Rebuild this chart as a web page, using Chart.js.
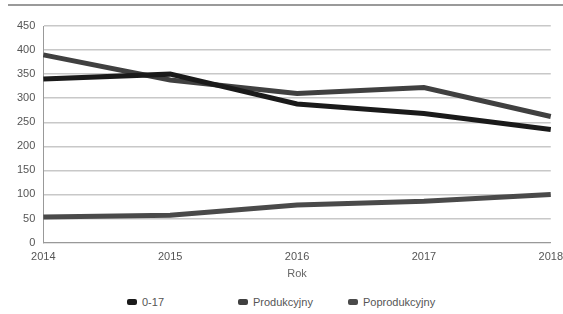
<!DOCTYPE html>
<html>
<head>
<meta charset="utf-8">
<script src="https://cdn.jsdelivr.net/npm/chart.js@4/dist/chart.umd.min.js"></script>
<style>
  html, body { margin: 0; padding: 0; background: #fff; }
  #wrap { position: relative; width: 563px; height: 314px; overflow: hidden; }
  #topline { position: absolute; left: 8px; right: 0; top: 4px; height: 0; border-top: 2px solid #9a9a9a; }
  #box { position: absolute; left: 0; top: 8px; width: 563px; height: 277px; }
  #legend { position: absolute; top: 296px; left: 0; width: 563px; height: 16px;
            font: 11px "Liberation Sans", Arial, sans-serif; color: #555; }
  .item { position: absolute; top: 0; white-space: nowrap; }
  .sw { display: inline-block; width: 10px; height: 6px; border-radius: 2px; margin-right: 5px; vertical-align: 1px; }
</style>
</head>
<body>
<div id="wrap">
  <div id="topline"></div>
  <div id="box"><canvas id="myChart"></canvas></div>
  <div id="legend"></div>
</div>
<script>
// dane
const years = ['2014', '2015', '2016', '2017', '2018'];
const seriesNames = ['0-17', 'Produkcyjny', 'Poprodukcyjny'];
const kids = [340, 350, 288, 268, 235];
const working = [390, 338, 310, 322, 262];
const retired = [53, 57, 78, 86, 100];
const colors = ['#1a1a1a', '#404040', '#4a4a4a'];

document.addEventListener('DOMContentLoaded', () => {
    const ctx = document.getElementById('myChart').getContext('2d');
    const values = [kids, working, retired];

    const datasets = seriesNames.map((name, i) => ({
        label: name,
        data: values[i],
        borderColor: colors[i],
        backgroundColor: colors[i],
        borderWidth: 5,
        pointRadius: 0,
        tension: 0,
        fill: false
    }));

    new Chart(ctx, {
        type: 'line',
        data: { labels: years, datasets: datasets },
        options: {
            responsive: true,
            maintainAspectRatio: false,
            animation: false,
            layout: { padding: { left: 9, right: 6, top: 18, bottom: 0 } },
            scales: {
                x: {
                    offset: false,
                    grid: { display: false },
                    border: { color: '#999', width: 1 },
                    ticks: { color: '#555', font: { family: 'Liberation Sans', size: 11 }, maxRotation: 0, padding: 0 },
                    title: { display: true, text: 'Rok', color: '#666', font: { family: 'Liberation Sans', size: 11 }, padding: { top: 4 } }
                },
                y: {
                    min: 0,
                    max: 450,
                    ticks: { stepSize: 50, color: '#555', font: { family: 'Liberation Sans', size: 11 }, padding: 8 },
                    grid: { color: '#c8c8c8', lineWidth: 1.5, drawTicks: false },
                    border: { display: true, color: '#999', width: 1 }
                }
            },
            plugins: {
                legend: { display: false },
                tooltip: { enabled: false }
            }
        }
    });

    // legenda
    const legend = document.getElementById('legend');
    const lefts = [127, 238, 348];
    seriesNames.forEach((name, i) => {
        const el = document.createElement('div');
        el.className = 'item';
        el.style.left = lefts[i] + 'px';
        el.innerHTML = `<span class="sw" style="background:${colors[i]}"></span>${name}`;
        legend.appendChild(el);
    });
});
</script>
</body>
</html>
